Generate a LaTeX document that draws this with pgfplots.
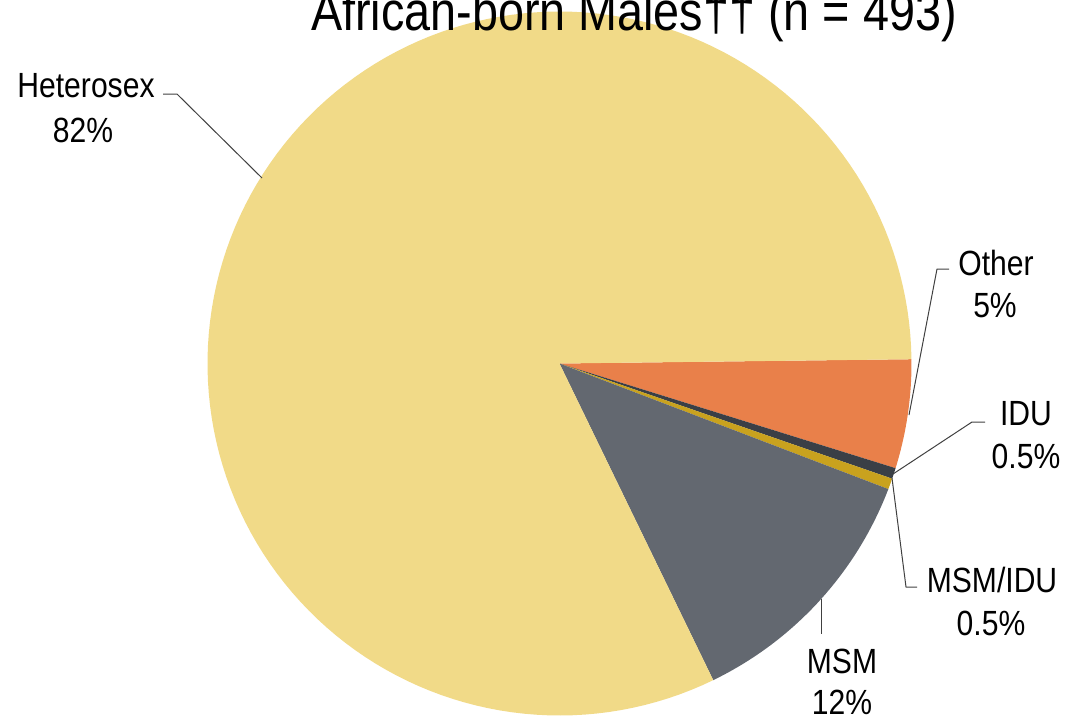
\documentclass[border=0pt]{standalone}
\usepackage{pgfplots}
\pgfplotsset{compat=1.18}
\usepackage{fontspec}
\setmainfont{Liberation Sans}
\definecolor{cHet}{HTML}{F1DA88}
\definecolor{cOther}{HTML}{E9804A}
\definecolor{cIDU}{HTML}{3A3F46}
\definecolor{cMI}{HTML}{C9A21E}
\definecolor{cMSM}{HTML}{636870}
\definecolor{cLine}{HTML}{404040}
% shares in percent
\def\pOther{5}
\def\pIDU{0.5}
\def\pMI{0.5}
\def\pMSM{12}
\def\pHet{82}
\pgfmathsetmacro\aA{0.7}
\pgfmathsetmacro\aB{\aA-\pOther*3.6}
\pgfmathsetmacro\aC{\aB-\pIDU*3.6}
\pgfmathsetmacro\aD{\aC-\pMI*3.6}
\pgfmathsetmacro\aE{\aD-\pMSM*3.6}
\pgfmathsetmacro\aF{\aE-\pHet*3.6}
\def\cx{559.5}
\def\cy{363.5}
\def\R{352}
\begin{document}
\begin{tikzpicture}[
  lab/.style={font=\fontsize{35}{42}\selectfont, anchor=base, xscale=0.86, inner sep=0pt},
]
\begin{axis}[
  width=1066pt, height=721pt, scale only axis,
  xmin=0, xmax=1066, ymin=0, ymax=721, y dir=reverse,
  hide axis, clip=false,
]
\coordinate (tl) at (axis cs:0,0);
\coordinate (br) at (axis cs:1066,721);
\addplot[draw=none, fill=cOther, domain=\aB:\aA, samples=20, variable=\t]
  ({\cx+\R*cos(t)},{\cy-\R*sin(t)}) -- (axis cs:\cx,\cy) -- cycle;
\addplot[draw=none, fill=cIDU, domain=\aC:\aB, samples=5, variable=\t]
  ({\cx+\R*cos(t)},{\cy-\R*sin(t)}) -- (axis cs:\cx,\cy) -- cycle;
\addplot[draw=none, fill=cMI, domain=\aD:\aC, samples=5, variable=\t]
  ({\cx+\R*cos(t)},{\cy-\R*sin(t)}) -- (axis cs:\cx,\cy) -- cycle;
\addplot[draw=none, fill=cMSM, domain=\aE:\aD, samples=40, variable=\t]
  ({\cx+\R*cos(t)},{\cy-\R*sin(t)}) -- (axis cs:\cx,\cy) -- cycle;
\addplot[draw=none, fill=cHet, domain=\aF:\aE, samples=150, variable=\t]
  ({\cx+\R*cos(t)},{\cy-\R*sin(t)}) -- (axis cs:\cx,\cy) -- cycle;
% leader lines
\draw[cLine, line width=1pt] (axis cs:163,94) -- (axis cs:177,94) -- (axis cs:262,178);
\draw[cLine, line width=1pt] (axis cs:949,269) -- (axis cs:937,269) -- (axis cs:909,415);
\draw[cLine, line width=1pt] (axis cs:985,422) -- (axis cs:972,422) -- (axis cs:893,474);
\draw[cLine, line width=1pt] (axis cs:892,478) -- (axis cs:906,587) -- (axis cs:917,587);
\draw[cLine, line width=1pt] (axis cs:821,599) -- (axis cs:821,634);
% labels
\node[lab] at (axis cs:86,97) {Heterosex};
\node[lab] at (axis cs:83,142) {82\%};
\node[lab] at (axis cs:996,275) {Other};
\node[lab] at (axis cs:995,317) {5\%};
\node[lab] at (axis cs:1026,425) {IDU};
\node[lab] at (axis cs:1026,468) {0.5\%};
\node[lab] at (axis cs:992,592) {MSM/IDU};
\node[lab] at (axis cs:991,635) {0.5\%};
\node[lab] at (axis cs:842,673) {MSM};
\node[lab] at (axis cs:842,714) {12\%};
\node[font=\fontsize{55}{60}\selectfont, anchor=base, xscale=0.85, inner sep=0pt] at (axis cs:634,30) {African-born Males†† (n = 493)};
\end{axis}
\pgfresetboundingbox
\path[use as bounding box] (tl) rectangle (br);
\end{tikzpicture}
\end{document}
